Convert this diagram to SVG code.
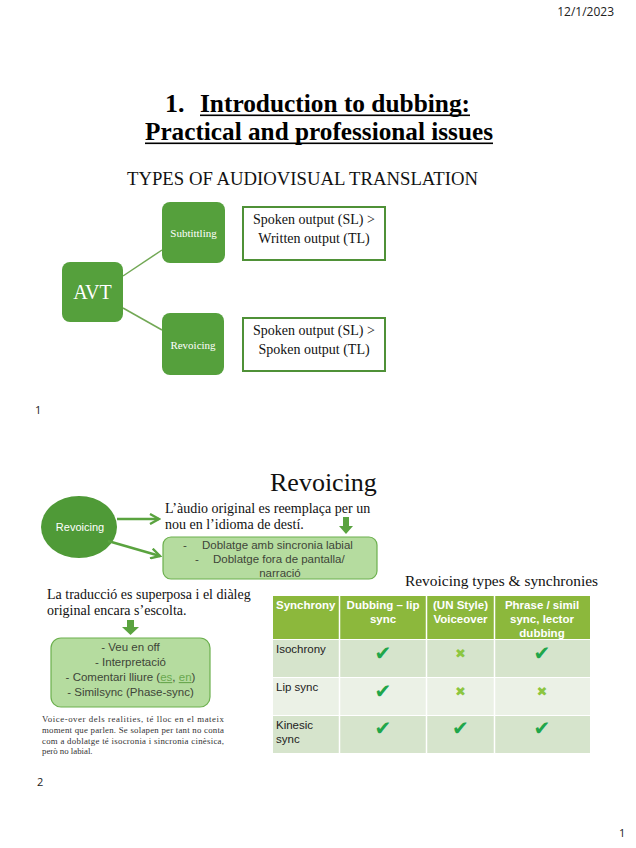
<svg xmlns="http://www.w3.org/2000/svg" width="636" height="848" viewBox="0 0 636 848">
<style>
.serif{font-family:"Liberation Serif","Times New Roman",serif}
.sans{font-family:"Liberation Sans",Arial,sans-serif}
.cal{font-family:"Open Sans","Liberation Sans",sans-serif;fill:#222}
.dk{fill:#55a03c}
.tb{fill:#fff;stroke:#4f9137;stroke-width:2}
.lb{fill:#b5dc9f;stroke:#6cb04e;stroke-width:1.2}
.bx{font-family:"Liberation Sans",Arial,sans-serif;font-size:11.5px;fill:#3e4538}
.hd{font-family:"Liberation Sans",Arial,sans-serif;font-size:11.5px;font-weight:bold;fill:#fff}
.cell{font-family:"Liberation Sans",Arial,sans-serif;font-size:11.5px;fill:#222}
.ok{font-family:"DejaVu Sans",sans-serif;font-size:20px;fill:#20a64a}
.no{font-family:"DejaVu Sans",sans-serif;font-size:13px;fill:#8cc640}
.par{font-family:"Liberation Serif","Times New Roman",serif;font-size:8.8px;fill:#333}
</style>
<defs>
<marker id="ah" viewBox="0 0 12 12" refX="10" refY="6" markerWidth="12" markerHeight="12" markerUnits="userSpaceOnUse" orient="auto">
<path d="M1,1 L10,6 L1,11" fill="none" stroke="#5aa33f" stroke-width="2.4" stroke-linejoin="miter"/>
</marker>
</defs>
<rect width="636" height="848" fill="#fff"/>

<text class="cal" x="614" y="16" font-size="12" text-anchor="end">12/1/2023</text>

<g id="title">
<text class="serif" x="165" y="112" font-size="26" font-weight="bold" fill="#000">1.</text>
<text class="serif" x="200" y="112" font-size="26" font-weight="bold" fill="#000" textLength="270" lengthAdjust="spacingAndGlyphs">Introduction to dubbing:</text>
<rect x="200" y="114.5" width="270" height="1.6" fill="#000"/>
<text class="serif" x="145" y="140" font-size="26" font-weight="bold" fill="#000" textLength="348" lengthAdjust="spacingAndGlyphs">Practical and professional issues</text>
<rect x="145" y="142.5" width="348" height="1.6" fill="#000"/>
</g>

<text class="serif" x="127" y="185" font-size="18.5" fill="#111" textLength="351" lengthAdjust="spacingAndGlyphs">TYPES OF AUDIOVISUAL TRANSLATION</text>

<g id="connectors1" stroke="#72a855" stroke-width="1.5" fill="none">
<line x1="123" y1="276" x2="162" y2="250"/>
<line x1="123" y1="308" x2="162" y2="330"/>
</g>

<g id="avt">
<rect class="dk" x="62" y="262" width="61" height="60" rx="8"/>
<text class="serif" x="92.5" y="299" font-size="20" fill="#fff" text-anchor="middle">AVT</text>
</g>
<g id="subtitling">
<rect class="dk" x="162" y="202" width="63" height="61" rx="8"/>
<text class="serif" x="193.5" y="237" font-size="11" fill="#fff" text-anchor="middle">Subtittling</text>
</g>
<g id="revoicing1">
<rect class="dk" x="162" y="313" width="62" height="62" rx="8"/>
<text class="serif" x="193" y="349" font-size="11" fill="#fff" text-anchor="middle">Revoicing</text>
</g>
<g id="desc1">
<rect class="tb" x="243" y="207" width="142" height="53"/>
<text class="serif" x="314" y="224" font-size="14" fill="#111" text-anchor="middle">Spoken output (SL) &gt;</text>
<text class="serif" x="314" y="243" font-size="14" fill="#111" text-anchor="middle">Written output (TL)</text>
</g>
<g id="desc2">
<rect class="tb" x="243" y="318" width="142" height="53"/>
<text class="serif" x="314" y="335" font-size="14" fill="#111" text-anchor="middle">Spoken output (SL) &gt;</text>
<text class="serif" x="314" y="354" font-size="14" fill="#111" text-anchor="middle">Spoken output (TL)</text>
</g>

<text class="cal" x="35" y="414" font-size="11">1</text>

<text class="serif" x="270" y="491" font-size="26" fill="#111">Revoicing</text>

<g id="revoicing2">
<ellipse cx="79" cy="527" rx="38" ry="31" fill="#4f9a37"/>
<text class="sans" x="80" y="531" font-size="11" fill="#fff" text-anchor="middle">Revoicing</text>
</g>

<g id="connectors2" stroke="#5aa33f" stroke-width="2.4" fill="none">
<line x1="117" y1="519" x2="159" y2="519" marker-end="url(#ah)"/>
<line x1="108" y1="541" x2="160" y2="556" marker-end="url(#ah)"/>
</g>

<g id="replace">
<text class="serif" x="165" y="513" font-size="14" fill="#111">L’àudio original es reemplaça per un</text>
<text class="serif" x="165" y="529" font-size="14" fill="#111">nou en l’idioma de destí.</text>
<polygon points="343,517 349,517 349,526 353,526 346,534 339,526 343,526" fill="#5aa33f"/>
</g>

<g id="dubbingbox">
<rect class="lb" x="163" y="537" width="214" height="42" rx="8"/>
<text class="bx" x="183" y="549">-</text>
<text class="bx" x="202" y="549">Doblatge amb sincronia labial</text>
<text class="bx" x="195" y="563">-</text>
<text class="bx" x="213" y="563">Doblatge fora de pantalla/</text>
<text class="bx" x="280" y="577" text-anchor="middle">narració</text>
</g>

<g id="superpose">
<text class="serif" x="47" y="599" font-size="14" fill="#111">La traducció es superposa i el diàleg</text>
<text class="serif" x="47" y="615" font-size="14" fill="#111">original encara s’escolta.</text>
<polygon points="127,620 134,620 134,627 139,627 130.5,635 122,627 127,627" fill="#5aa33f"/>
</g>

<g id="voiceoverbox">
<rect class="lb" x="51" y="638" width="159" height="69" rx="10"/>
<text class="bx" x="130.5" y="651" text-anchor="middle">- Veu en off</text>
<text class="bx" x="130.5" y="666" text-anchor="middle">- Interpretació</text>
<text class="bx" x="130.5" y="681" text-anchor="middle">- Comentari lliure (<tspan fill="#6aa84f" text-decoration="underline">es</tspan>, <tspan fill="#6aa84f" text-decoration="underline">en</tspan>)</text>
<text class="bx" x="130.5" y="696" text-anchor="middle">- Similsync (Phase-sync)</text>
</g>

<g id="paragraph">
<text class="par" x="42" y="722" textLength="182" lengthAdjust="spacing">Voice-over dels realities, té lloc en el mateix</text>
<text class="par" x="42" y="733" textLength="182" lengthAdjust="spacing">moment que parlen. Se solapen per tant no conta</text>
<text class="par" x="42" y="743.5" textLength="182" lengthAdjust="spacing">com a doblatge té isocronia i sincronia cinèsica,</text>
<text class="par" x="42" y="754">però no labial.</text>
</g>

<text class="cal" x="37" y="786" font-size="11">2</text>

<text class="serif" x="405" y="586" font-size="15" fill="#111" textLength="193" lengthAdjust="spacingAndGlyphs">Revoicing types &amp; synchronies</text>

<g id="table">
<rect x="273" y="596" width="317" height="43" fill="#8cb83c"/>
<rect x="273" y="640" width="317" height="37" fill="#d6e4cc"/>
<rect x="273" y="678" width="317" height="37" fill="#ebf1e6"/>
<rect x="273" y="716" width="317" height="37" fill="#d6e4cc"/>
<g stroke="#fff" stroke-width="1.5">
<line x1="339.5" y1="596" x2="339.5" y2="753"/>
<line x1="426.5" y1="596" x2="426.5" y2="753"/>
<line x1="494.5" y1="596" x2="494.5" y2="753"/>
</g>
<text class="hd" x="276" y="609">Synchrony</text>
<text class="hd" x="383" y="609" text-anchor="middle">Dubbing – lip</text>
<text class="hd" x="383" y="623" text-anchor="middle">sync</text>
<text class="hd" x="460.5" y="609" text-anchor="middle">(UN Style)</text>
<text class="hd" x="460.5" y="623" text-anchor="middle">Voiceover</text>
<text class="hd" x="542" y="609" text-anchor="middle">Phrase / simil</text>
<text class="hd" x="542" y="623" text-anchor="middle">sync, lector</text>
<text class="hd" x="542" y="637" text-anchor="middle">dubbing</text>
<text class="cell" x="276" y="653">Isochrony</text>
<text class="cell" x="276" y="691">Lip sync</text>
<text class="cell" x="276" y="729">Kinesic</text>
<text class="cell" x="276" y="743">sync</text>
<text class="ok" x="383" y="660" text-anchor="middle">✔</text>
<text class="no" x="460.5" y="658" text-anchor="middle">✖</text>
<text class="ok" x="542" y="660" text-anchor="middle">✔</text>
<text class="ok" x="383" y="698" text-anchor="middle">✔</text>
<text class="no" x="460.5" y="696" text-anchor="middle">✖</text>
<text class="no" x="542" y="696" text-anchor="middle">✖</text>
<text class="ok" x="383" y="735" text-anchor="middle">✔</text>
<text class="ok" x="460.5" y="735" text-anchor="middle">✔</text>
<text class="ok" x="542" y="735" text-anchor="middle">✔</text>
</g>

<text class="cal" x="619" y="837" font-size="11">1</text>
</svg>
